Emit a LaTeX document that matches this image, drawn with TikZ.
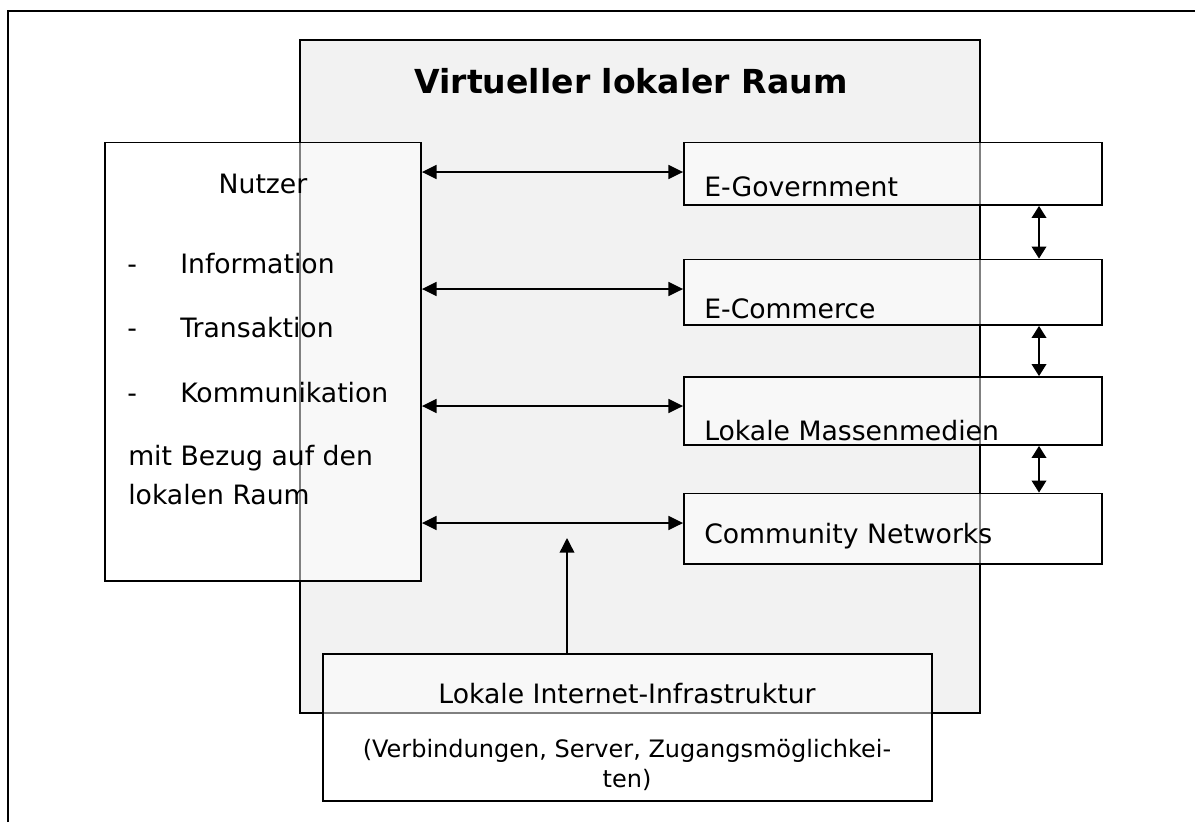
\documentclass[tikz,border=0pt]{standalone}
\usepackage{fontspec}
\setmainfont{DejaVu Sans}
\usetikzlibrary{arrows.meta,fit}
\definecolor{regiongray}{RGB}{242,242,242}
\begin{document}
\begin{tikzpicture}[x=0.75pt,y=-0.75pt,
  frame/.style={line width=1.5pt, line join=miter},
  region/.style={draw=black, line width=1.4pt, fill=regiongray, inner sep=0pt},
  box/.style={draw=black, line width=1.4pt, fill=white, fill opacity=0.5, inner sep=0pt},
  biarrow/.style={line width=1.1pt, {Triangle[length=11pt,width=10.5pt]}-{Triangle[length=11pt,width=10.5pt]}},
  vbiarrow/.style={line width=1.1pt, {Triangle[length=9pt,width=11pt]}-{Triangle[length=9pt,width=11pt]}},
  uparrow/.style={line width=1.1pt, -{Triangle[length=11pt,width=11pt]}},
  txt/.style={inner sep=0pt, font=\fontsize{20pt}{24pt}\selectfont},
  smalltxt/.style={inner sep=0pt, font=\fontsize{18pt}{22pt}\selectfont},
  titletxt/.style={inner sep=0pt, font=\bfseries\fontsize{24.8pt}{29pt}\selectfont}
]
\useasboundingbox (0,0) rectangle (1195,822);
% outer frame (only left and top edges visible)
\draw[frame] (8,822) -- (8,11) -- (1195,11);

% virtual local space
\node[region, fit={(300,40) (980,713)}] (raum) {};
\node[titletxt, anchor=base] (title) at (631,93) {Virtueller lokaler Raum};

% boxes
\node[box, fit={(105,142.5) (421,581)}] (nutzer) {};
\node[box, fit={(684,142.5) (1102,205)}] (egov) {};
\node[box, fit={(684,259.5) (1102,325)}] (ecom) {};
\node[box, fit={(684,377) (1102,445)}] (medien) {};
\node[box, fit={(684,493.5) (1102,564)}] (cnet) {};
\node[box, fit={(323,654) (932,801)}] (infra) {};

% texts in Nutzer
\node[txt, anchor=base] (tnutzer) at (263,193) {Nutzer};
\node[txt, anchor=base west] (d1) at (127,273) {-};
\node[txt, anchor=base west] (t1) at (180,273) {Information};
\node[txt, anchor=base west] (d2) at (127,337) {-};
\node[txt, anchor=base west] (t2) at (180,337) {Transaktion};
\node[txt, anchor=base west] (d3) at (127,402) {-};
\node[txt, anchor=base west] (t3) at (180,402) {Kommunikation};
\node[txt, anchor=base west] (t4) at (128,465) {mit Bezug auf den};
\node[txt, anchor=base west] (t5) at (128,504) {lokalen Raum};

% texts in right boxes
\node[txt, anchor=base west] (tegov) at (704,196) {E-Government};
\node[txt, anchor=base west] (tecom) at (704,318) {E-Commerce};
\node[txt, anchor=base west] (tmed) at (704,440) {Lokale Massenmedien};
\node[txt, anchor=base west] (tcnet) at (704,543) {Community Networks};

% texts in infrastructure box
\node[txt, anchor=base] (tinfra) at (627,703) {Lokale Internet-Infrastruktur};
\node[smalltxt, anchor=base] (tinfra2) at (627,757) {(Verbindungen, Server, Zugangsmöglichkei-};
\node[smalltxt, anchor=base] (tinfra3) at (627,787) {ten)};

% horizontal arrows
\coordinate (h1) at (0,172);
\coordinate (h2) at (0,289);
\coordinate (h3) at (0,406);
\coordinate (h4) at (0,523);
\draw[biarrow] (nutzer.east |- h1) -- (egov.west |- h1);
\draw[biarrow] (nutzer.east |- h2) -- (ecom.west |- h2);
\draw[biarrow] (nutzer.east |- h3) -- (medien.west |- h3);
\draw[biarrow] (nutzer.east |- h4) -- (cnet.west |- h4);

% vertical arrows between right boxes
\coordinate (vx) at (1039,0);
\draw[vbiarrow] (egov.south -| vx) -- (ecom.north -| vx);
\draw[vbiarrow] (ecom.south -| vx) -- (medien.north -| vx);
\draw[vbiarrow] (medien.south -| vx) -- (cnet.north -| vx);

% up arrow from infrastructure
\coordinate (utip) at (567,538);
\draw[uparrow] (infra.north -| utip) -- (utip);
\end{tikzpicture}
\end{document}
